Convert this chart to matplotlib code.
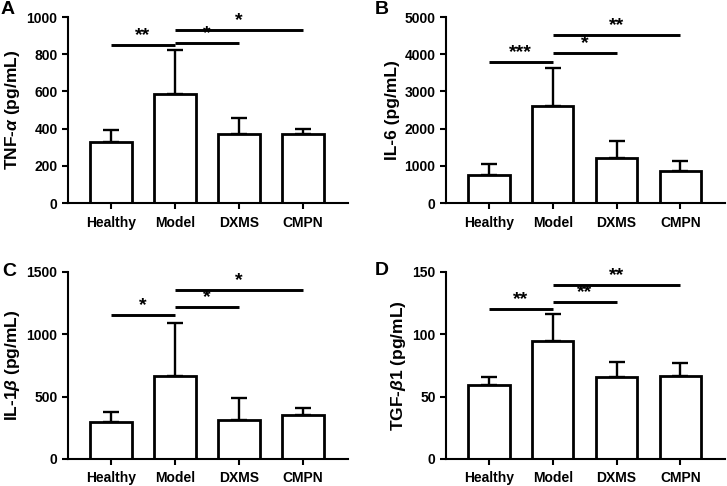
import matplotlib.pyplot as plt

plt.rcParams['font.family'] = 'Liberation Sans'
plt.rcParams['font.weight'] = 'bold'
plt.rcParams['mathtext.fontset'] = 'custom'
plt.rcParams['mathtext.rm'] = 'Liberation Sans:bold'
plt.rcParams['mathtext.it'] = 'Liberation Sans:bold:italic'

groups = ['Healthy', 'Model', 'DXMS', 'CMPN']

# panel A: TNF-alpha
tnf_mean = [330, 585, 372, 372]
tnf_sd = [65, 240, 83, 28]
tnf_sig = [(0, 1, 848, '**'), (1, 2, 861, '*'), (1, 3, 929, '*')]

# panel B: IL-6
il6_mean = [750, 2600, 1200, 870]
il6_sd = [300, 1020, 460, 250]
il6_sig = [(0, 1, 3790, '***'), (1, 2, 4040, '*'), (1, 3, 4530, '**')]

# panel C: IL-1beta
il1b_mean = [300, 665, 310, 350]
il1b_sd = [80, 425, 180, 55]
il1b_sig = [(0, 1, 1152, '*'), (1, 2, 1219, '*'), (1, 3, 1353, '*')]

# panel D: TGF-beta1
tgf_mean = [59, 94.5, 66, 66.5]
tgf_sd = [7, 21.5, 11.5, 10.5]
tgf_sig = [(0, 1, 120, '**'), (1, 2, 125.9, '**'), (1, 3, 139.3, '**')]

panels = [
    ('A', r'TNF-$\it{\alpha}$ (pg/mL)', tnf_mean, tnf_sd, tnf_sig, 1000, 200,
     [0.0935, 0.582, 0.385, 0.383], (8, 10)),
    ('B', 'IL-6 (pg/mL)', il6_mean, il6_sd, il6_sig, 5000, 1000,
     [0.6135, 0.582, 0.384, 0.383], (382, 10)),
    ('C', r'IL-1$\it{\beta}$ (pg/mL)', il1b_mean, il1b_sd, il1b_sig, 1500, 500,
     [0.0935, 0.0556, 0.385, 0.385], (9, 271)),
    ('D', r'TGF-$\it{\beta}$1 (pg/mL)', tgf_mean, tgf_sd, tgf_sig, 150, 50,
     [0.6135, 0.0556, 0.384, 0.385], (382, 270)),
]

fig = plt.figure(figsize=(7.27, 4.86), dpi=100)

for letter, ylab, mean, sd, sig, ymax, step, rect, lpos in panels:
    ax = fig.add_axes(rect)
    x = list(range(len(groups)))
    ax.errorbar(x, mean, yerr=[[0] * 4, sd], fmt='none', ecolor='black',
                elinewidth=1.7, capsize=5.5, capthick=1.7, zorder=1)
    ax.bar(x, mean, width=0.65, color='white', edgecolor='black', linewidth=2.0, zorder=2)
    for i, j, y, lab in sig:
        ax.plot([i, j], [y, y], color='black', lw=2.1, solid_capstyle='butt', clip_on=False)
        ax.text((i + j) / 2, y + ymax * 0.004, lab, ha='center', va='bottom',
                fontsize=14, fontweight='bold')
    ax.set_xlim(-0.67, 3.70)
    ax.set_ylim(0, ymax)
    ax.set_yticks(range(0, ymax + 1, step))
    ax.set_xticks(x)
    ax.set_xticklabels(groups)
    ax.spines['top'].set_visible(False)
    ax.spines['right'].set_visible(False)
    ax.spines['left'].set_linewidth(1.5)
    ax.spines['bottom'].set_linewidth(1.5)
    ax.tick_params(width=1.5, length=4, labelsize=10)
    ax.tick_params(axis='x', pad=5)
    for t in ax.get_xticklabels() + ax.get_yticklabels():
        t.set_fontweight('bold')
    ax.set_ylabel(ylab, fontsize=12.5, fontweight='bold', labelpad=3)
    fig.text(lpos[0] / 727, 1 - lpos[1] / 486, letter, fontsize=14,
             fontweight='bold', ha='center', va='center')

fig.savefig('out.png', dpi=100)
